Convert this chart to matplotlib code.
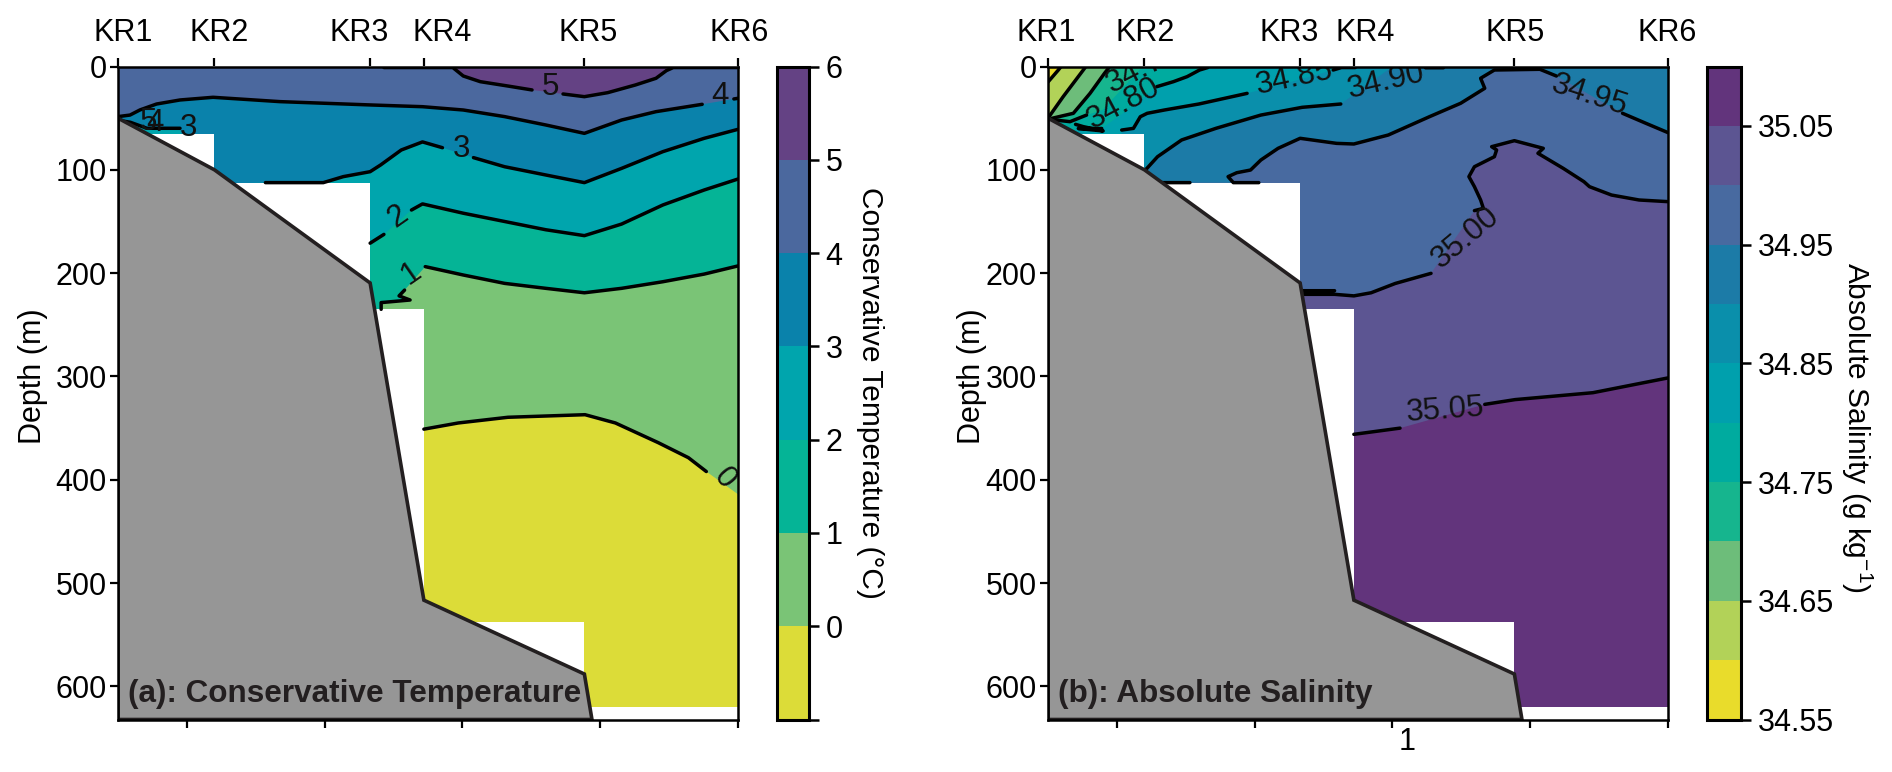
import numpy as np
import matplotlib
matplotlib.use("Agg")
import matplotlib.pyplot as plt
from matplotlib.cm import ScalarMappable
from matplotlib.colors import BoundaryNorm, ListedColormap
from matplotlib.transforms import ScaledTranslation

plt.rcParams['font.family'] = ['Liberation Sans', 'DejaVu Sans']
plt.rcParams['mathtext.default'] = 'regular'

W, H = 1892, 772
nan = np.nan

# stations (distance along section in km, depth in m)
stations = ['KR1', 'KR2', 'KR3', 'KR4', 'KR5', 'KR6']
station_x = [0, 7, 18.3, 22.2, 33.85, 45]
# deepest gridded depth between one station and the next
data_bottom = [65, 113, 235, 538, 620]
seabed_x = [0, 7, 18.3, 22.2, 33.85, 34.4]
seabed_z = [50, 100, 209.5, 516.5, 588, 632]
bottom_ticks = [5, 15, 25, 35, 45]
depth_ticks = [0, 100, 200, 300, 400, 500, 600]

# --- temperature isolines (nan = gap in the drawn line) ---
temp_levels = [-1, 0, 1, 2, 3, 4, 5, 6]
temp_colors = ['#dcdc38', '#7ac476', '#05b496', '#00a5ad', '#0a82ab', '#4b689e', '#644284']
t5_x = [0, nan, 19.3, 24.3, 25.06, 26.3, 28.3, 30.05, nan, 32.3, 33.85, 35.55, 37.55, 39.05, 39.8, 40.3, 45]
t5_z = [0, nan, 1, 1, 9.2, 14.7, 18.9, 22.7, nan, 26.6, 29.2, 25.3, 17.9, 11.4, 4, 1, 1]
t4_x = [0, 0.87, 1.6, 2.8, 4.5, 6.9, 11.75, 18.3, 22.1, 25.06, 28.06, 31.05, 33.85, 36.55, 39.05, 42.4, nan, 44.7, 45]
t4_z = [48.5, 47, 42, 36.3, 32.4, 29.8, 34, 37.2, 38.9, 42.1, 48.5, 56.6, 64.7, 51.8, 43.7, 36.6, nan, 31.4, 30.8]
t3_x = [0, 0.9, 2.1, 4.5, nan, 4.6, nan, 6.95, nan, 6.95, nan, 10.7, 14.9, 16.35, 18.3, 19.06, 20.56, 22.1, 23.55, nan, 25.8, 28.06, 31.05, 33.85, 36.55, 39.55, 42.55, 45]
t3_z = [52, 54, 59.8, 59.8, nan, 65.5, nan, 65.5, nan, 113.5, nan, 112.4, 112.4, 106.6, 101.8, 95.3, 80.8, 73, 78.6, nan, 88.2, 97, 105, 112.4, 98.6, 82.4, 69.5, 60.8]
t2_x = [18.3, 19.3, nan, 21.3, 22.1, 25.06, 28.06, 31.05, 33.85, 36.55, 39.55, 42.55, 45]
t2_z = [171, 162.5, nan, 138.9, 133, 142, 150, 158, 163.7, 152.5, 134, 119.5, 108.9]
t1_x = [19.1, 19.1, 21.2, 20.4, 20.8, nan, 22.3, 25.06, 28.06, 31.05, 33.85, 36.55, 39.55, 42.55, 45]
t1_z = [235, 228.5, 226, 222, 216.4, nan, 193.7, 201.8, 209.9, 214.7, 219, 214.7, 208.3, 200.9, 193]
t0_x = [22.2, 24.7, 28.3, 33.9, 36.1, 39.2, 41.4, 42.7, nan, 45]
t0_z = [351, 345, 339.5, 337, 345, 364, 378.6, 392, nan, 414]
temp_iso = [(t5_x, t5_z), (t4_x, t4_z), (t3_x, t3_z), (t2_x, t2_z), (t1_x, t1_z), (t0_x, t0_z)]
temp_labels = ['5', '4', '3', '2', '1', '0', '3', '4', '5']
temp_label_x = [31.4, 43.7, 24.9, 20.3, 21.3, 44, 5.1, 2.7, 2.2]
temp_label_z = [20, 29, 80, 145, 200, 399, 60, 55, 54]
temp_label_rot = [0, 0, 0, 35, 35, -50, 0, 0, 0]

# --- salinity isolines ---
sal_levels = [34.55, 34.60, 34.65, 34.70, 34.75, 34.80, 34.85, 34.90, 34.95, 35.00, 35.05, 35.10]
sal_colors = ['#e9dc2b', '#b2d258', '#6dbd7a', '#16b58e', '#00ab9f', '#00a0ad', '#0a8fab',
              '#1c7ba7', '#486aa0', '#5c5592', '#62347c']
s60_x = [0, 0.75, 0.95, nan, 45]
s60_z = [15, 3.4, 0, nan, 0]
s65_x = [0, 1.1, 2.56, 2.75, nan, 45]
s65_z = [50, 29.2, 3.4, 0, nan, 0]
s70_x = [0.27, 1.84, 3.05, 4.1, 4.4, nan, 45]
s70_z = [50.2, 45.3, 26, 6.6, 1.5, nan, 0]
s75_x = [0.5, 1.6, 2.8, nan, 3.97, nan, 6.4, nan, 6.9, nan, 45]
s75_z = [51.8, 53.4, 47, nan, 42, nan, 6.6, nan, 0, nan, 0]
s80_x = [2.0, 2.56, 4.0, 2.2, 3.9, nan, 6.43, nan, 7.9, 9.1, 10.1, 11.0, 11.6, nan, 45]
s80_z = [56, 58.2, 62.4, 60, 60, nan, 35.7, nan, 19.5, 14.7, 9.8, 3.4, 1, nan, 0]
s85_x = [5.35, 6.2, 6.7, 7.2, 8.45, 10.95, 14.45, nan, 17.9, nan, 20.7, 21.3, 22.3, nan, 45]
s85_z = [61.5, 59.9, 48.6, 45.3, 42.1, 36.3, 26, nan, 14, nan, 3.4, 1, 1, nan, 0]
s90_x = [7.07, 7.95, 9.7, 12.2, 15.45, 18.45, 21.25, nan, 24.7, nan, 27.4, 28.7, nan, 45]
s90_z = [100.2, 87.3, 71.1, 59.8, 47, 39.5, 36.3, nan, 3, nan, 1.2, 1.2, nan, 0]
s95_x = [8.2, 10.3, nan, 15.3, 13.45, 13.07, 13.7, 14.7, 15.45, 16.7, 18.3, 20.95, 22.2, 24.7, 27.7, 29.95, 31.7,
         31.4, 32.4, 35.7, 36.9, nan, 41.7, 43.4, 45]
s95_z = [112.4, 112.4, nan, 112.4, 112.4, 106.6, 102.8, 100.2, 90.5, 79.2, 69.5, 74.4, 75, 66.3, 48.5, 35.6, 21.1,
         11.4, 3.4, 2.7, 9.2, nan, 45.3, 55, 64]
s100_x = [18.5, 20.8, 18.5, 20.8, 22.2, 23.45, 25.2, 27.8, nan, 30.95, 31.6, 31.4, 30.95, 30.55, 30.95, 32.4, 32.56,
          32.2, 33.85, 35.95, 35.56, 37.4, 38.9, 39.3, 40.9, 42.9, 45]
s100_z = [217, 217, 220.5, 220.5, 222, 219, 210, 200.2, nan, 139.5, 137.3, 129.2, 116.3, 106.6, 97, 87.3, 80.8,
          77.6, 71.8, 79.2, 84, 98.6, 111.5, 116.3, 124.4, 129.2, 130.8]
s105_x = [22.2, 25.55, nan, 31.7, 33.9, 39.55, 45]
s105_z = [356, 350, nan, 327, 322.4, 315.7, 301.4]
sal_iso = [(s60_x, s60_z), (s65_x, s65_z), (s70_x, s70_z), (s75_x, s75_z), (s80_x, s80_z),
           (s85_x, s85_z), (s90_x, s90_z), (s95_x, s95_z), (s100_x, s100_z), (s105_x, s105_z)]
sal_labels = ['34.75', '34.80', '34.85', '34.90', '34.95', '35.00', '35.05']
sal_label_x = [6.9, 5.47, 17.9, 24.57, 39.3, 30.3, 28.8]
sal_label_z = [2, 35.7, 11.4, 14.7, 27.6, 166, 333]
sal_label_rot = [27, 28, 12, 13, -18, 40, 4]

fig = plt.figure(figsize=(W / 100, H / 100), dpi=100)


def px_axes(left, right, top=66.5, bottom=719.5):
    return fig.add_axes([left / W, 1 - bottom / H, (right - left) / W, (bottom - top) / H])


def draw_panel(ax, iso, colors, lab, lab_x, lab_z, lab_rot, title, name_shift):
    # colors[0] lies on top of the section, each isoline then paints what is below it
    ax.set_xlim(0, 45)
    ax.set_ylim(632, 0)

    ax.fill([0, 45, 45, 0], [0, 0, 640, 640], color=colors[0], lw=0)
    for (x, z), c in zip(iso, colors[1:]):
        x, z = np.array(x, float), np.array(z, float)
        ok = np.isfinite(x)
        px = np.r_[x[ok], x[ok][-1], x[ok][0]]
        pz = np.r_[z[ok], 640, 640]
        ax.fill(px, pz, color=c, lw=0)

    # no data below the last grid depth of each station interval
    for i, d in enumerate(data_bottom):
        ax.fill_between(station_x[i:i + 2], d, 640, color='white', lw=0, zorder=2)

    for x, z in iso:
        ax.plot(x, z, color='black', lw=2.5, solid_capstyle='round', zorder=3)

    for t, x, z, r in zip(lab, lab_x, lab_z, lab_rot):
        ax.text(x, z, t, fontsize=22.5, rotation=r, ha='center', va='center', rotation_mode='anchor',
                color='#111111', zorder=4, clip_on=True)

    ax.fill(seabed_x + [0], seabed_z + [632], facecolor='#969696', edgecolor='#231f20', lw=2.6, zorder=5)
    ax.text(0.72, 607, title, fontsize=22.7, fontweight='bold', color='#231f20', va='center', zorder=6)

    for s in ax.spines.values():
        s.set_linewidth(1.8)
        s.set_zorder(7)
    ax.set_yticks(depth_ticks)
    ax.tick_params(axis='y', labelsize=22, length=6, width=1.6, pad=2)
    ax.set_xticks(bottom_ticks)
    ax.tick_params(axis='x', length=6, width=1.6, labelbottom=False)

    top = ax.secondary_xaxis('top')
    top.set_xticks(station_x)
    top.set_xticklabels(stations, fontsize=22)
    top.tick_params(length=6, width=1.6, pad=7)
    top.spines['top'].set_visible(False)
    for lbl, dx in zip(top.get_xticklabels(), name_shift):
        lbl.set_transform(lbl.get_transform() + ScaledTranslation(dx / 100, 0, fig.dpi_scale_trans))


def draw_cbar(left, right, levels, colors, ticks, ticklabels):
    cax = px_axes(left, right)
    norm = BoundaryNorm(levels, len(colors))
    cb = fig.colorbar(ScalarMappable(norm=norm, cmap=ListedColormap(colors)), cax=cax, ticks=ticks, spacing='proportional')
    cb.ax.set_yticklabels(ticklabels)
    cb.ax.tick_params(labelsize=22, length=7, width=1.8, pad=5)
    cb.ax.minorticks_off()
    cb.outline.set_linewidth(2.2)


ax_a = px_axes(118, 738)
draw_panel(ax_a, temp_iso, temp_colors[::-1], temp_labels, temp_label_x, temp_label_z, temp_label_rot,
           '(a): Conservative Temperature', [5, 5, -11, 18, 4, 1])
ax_b = px_axes(1048, 1668)
draw_panel(ax_b, sal_iso, sal_colors, sal_labels, sal_label_x, sal_label_z, sal_label_rot,
           '(b): Absolute Salinity', [-2, 1, -11, 11, 1, -1])

draw_cbar(777, 809, temp_levels, temp_colors, temp_levels, ['', '0', '1', '2', '3', '4', '5', '6'])
draw_cbar(1707, 1741, sal_levels, sal_colors, [34.55, 34.65, 34.75, 34.85, 34.95, 35.05],
          ['34.55', '34.65', '34.75', '34.85', '34.95', '35.05'])

fig.text(33 / W, 1 - 376 / H, 'Depth (m)', rotation=90, fontsize=22, ha='center', va='center')
fig.text(972 / W, 1 - 376 / H, 'Depth (m)', rotation=90, fontsize=22, ha='center', va='center')
fig.text(870 / W, 1 - 393 / H, 'Conservative Temperature (°C)', rotation=270, fontsize=21.5, ha='center', va='center')
fig.text(1857 / W, 1 - 427 / H, 'Absolute Salinity (g kg$^{-1}$)', rotation=270, fontsize=21.5, ha='center', va='center')
fig.text(1407 / W, 1 - 742 / H, '1', fontsize=22, ha='center', va='center')

fig.savefig('out.png', dpi=100)
plt.close(fig)
